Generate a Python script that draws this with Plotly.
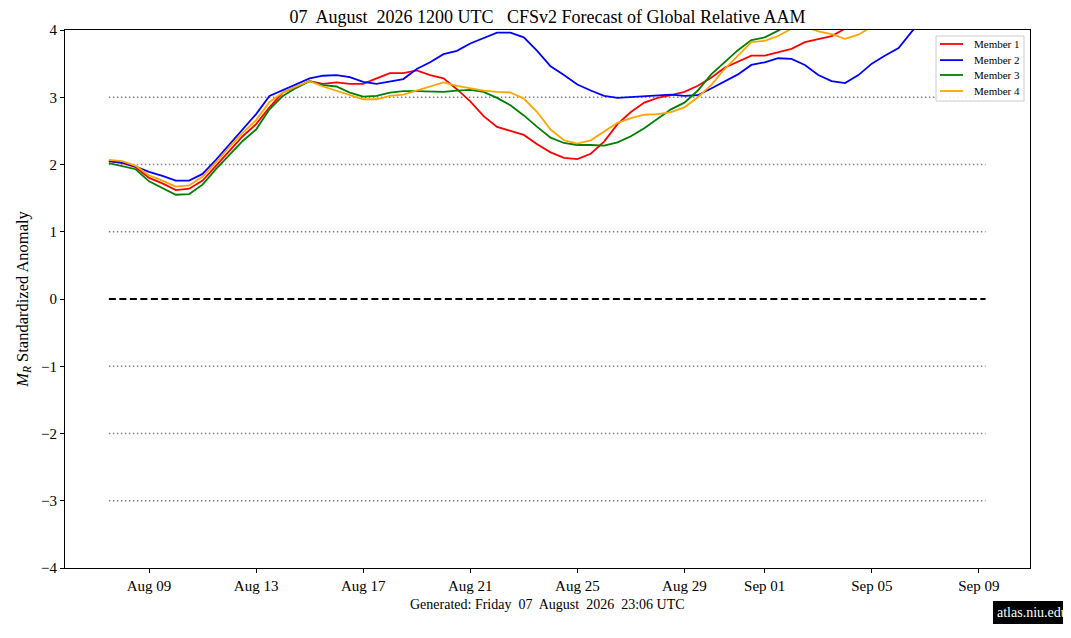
import pandas as pd
import plotly.graph_objects as go

# 12-hourly valid times of the forecast
times = pd.date_range("2026-08-07 12:00", periods=66, freq="12h")

member1 = [2.05, 2.02, 1.96, 1.80, 1.72, 1.62, 1.64, 1.76, 1.98, 2.20,
           2.42, 2.60, 2.85, 3.07, 3.16, 3.24, 3.20, 3.22, 3.20, 3.20,
           3.28, 3.36, 3.36, 3.40, 3.33, 3.28, 3.12, 2.94, 2.72, 2.56,
           2.50, 2.44, 2.30, 2.18, 2.10, 2.08, 2.16, 2.34, 2.60, 2.78,
           2.92, 2.99, 3.03, 3.08, 3.17, 3.29, 3.44, 3.53, 3.62, 3.62,
           3.67, 3.72, 3.82, 3.87, 3.91, 4.02, 4.15, 4.30, 4.45, 4.60,
           4.75, 4.90, 5.05, 5.20, 5.35, 5.50]
member2 = [2.05, 2.03, 1.97, 1.89, 1.83, 1.76, 1.76, 1.86, 2.07, 2.30,
           2.52, 2.75, 3.02, 3.11, 3.20, 3.28, 3.32, 3.33, 3.30, 3.23,
           3.20, 3.24, 3.27, 3.42, 3.52, 3.64, 3.69, 3.80, 3.88, 3.96,
           3.96, 3.89, 3.69, 3.46, 3.33, 3.19, 3.10, 3.02, 2.99, 3.00,
           3.01, 3.02, 3.04, 3.02, 3.03, 3.13, 3.23, 3.34, 3.48, 3.52,
           3.58, 3.57, 3.48, 3.33, 3.24, 3.21, 3.33, 3.50, 3.62, 3.73,
           3.98, 4.20, 4.40, 4.60, 4.80, 5.00]
member3 = [2.02, 1.98, 1.93, 1.75, 1.65, 1.55, 1.56, 1.70, 1.93, 2.14,
           2.35, 2.52, 2.82, 3.02, 3.14, 3.24, 3.18, 3.16, 3.07, 3.01,
           3.02, 3.07, 3.09, 3.09, 3.09, 3.08, 3.10, 3.11, 3.08, 2.99,
           2.88, 2.73, 2.56, 2.40, 2.32, 2.29, 2.29, 2.28, 2.33, 2.42,
           2.54, 2.68, 2.82, 2.92, 3.10, 3.34, 3.52, 3.70, 3.85, 3.89,
           3.99, 4.10, 4.25, 4.40, 4.55, 4.70, 4.85, 5.00, 5.15, 5.30,
           5.45, 5.60, 5.75, 5.90, 6.05, 6.20]
member4 = [2.07, 2.05, 1.98, 1.84, 1.76, 1.67, 1.69, 1.82, 2.03, 2.26,
           2.47, 2.66, 2.93, 3.07, 3.16, 3.24, 3.16, 3.10, 3.04, 2.97,
           2.97, 3.02, 3.04, 3.10, 3.16, 3.22, 3.17, 3.13, 3.10, 3.08,
           3.07, 2.98, 2.78, 2.52, 2.36, 2.31, 2.36, 2.49, 2.62, 2.69,
           2.74, 2.75, 2.78, 2.85, 3.00, 3.18, 3.42, 3.62, 3.82, 3.84,
           3.91, 4.02, 4.05, 3.98, 3.94, 3.87, 3.93, 4.05, 4.20, 4.35,
           4.50, 4.65, 4.80, 4.95, 5.10, 5.25]

member_names = ["Member 1", "Member 2", "Member 3", "Member 4"]
member_colors = ["red", "blue", "green", "orange"]

ref_levels = [-3, -2, -1, 1, 2, 3]
ref_span = ["2026-08-07 12:00", "2026-09-09 06:00"]

y_ticks = [-4, -3, -2, -1, 0, 1, 2, 3, 4]
y_ticktext = ["\u22124", "\u22123", "\u22122", "\u22121", "0", "1", "2", "3", "4"]
x_ticks = ["2026-08-09", "2026-08-13", "2026-08-17", "2026-08-21", "2026-08-25",
           "2026-08-29", "2026-09-01", "2026-09-05", "2026-09-09"]
x_ticktext = ["Aug 09", "Aug 13", "Aug 17", "Aug 21", "Aug 25",
              "Aug 29", "Sep 01", "Sep 05", "Sep 09"]

FONT = "Liberation Serif"

fig = go.Figure()

for lvl in ref_levels:
    fig.add_trace(go.Scatter(x=ref_span, y=[lvl, lvl], mode="lines",
                             line=dict(color="gray", width=1.5, dash="1.5px,2.5px"),
                             showlegend=False, hoverinfo="skip"))
fig.add_trace(go.Scatter(x=ref_span, y=[0, 0], mode="lines",
                         line=dict(color="black", width=2, dash="7px,3.5px"),
                         showlegend=False, hoverinfo="skip"))

for name, vals, col in zip(member_names, [member1, member2, member3, member4], member_colors):
    fig.add_trace(go.Scatter(x=times, y=vals, mode="lines", name=name,
                             line=dict(color=col, width=1.8), showlegend=False))

# page body has an 8px margin: the figure is shrunk and margins offset to match
fig.update_layout(
    width=1063, height=630,
    margin=dict(l=57, r=41, t=22, b=70),
    paper_bgcolor="white", plot_bgcolor="white",
    font=dict(family=FONT, color="black", size=14),
    title=dict(text="07  August  2026 1200 UTC   CFSv2 Forecast of Global Relative AAM",
               x=0.5, xref="paper", xanchor="center", y=0.986, yanchor="middle",
               font=dict(size=18, family=FONT)),
    showlegend=False,
)

fig.update_xaxes(range=["2026-08-05 20:40", "2026-09-10 21:50"],
                 tickvals=x_ticks, ticktext=x_ticktext,
                 ticks="outside", ticklen=4, tickwidth=1, tickcolor="black",
                 showline=True, linecolor="black", linewidth=1.2, mirror=True,
                 showgrid=False, zeroline=False, tickfont=dict(size=15))
fig.update_yaxes(range=[-4, 4], tickvals=y_ticks, ticktext=y_ticktext,
                 ticks="outside", ticklen=4, tickwidth=1, tickcolor="black",
                 showline=True, linecolor="black", linewidth=1.2, mirror=True,
                 showgrid=False, zeroline=False, tickfont=dict(size=15),
                 title=dict(text="<i>M<sub>R</sub></i> Standardized Anomaly",
                            font=dict(size=16.5), standoff=8))

# legend box (upper right, inside the axes)
fig.add_shape(type="rect", xref="paper", yref="paper",
              x0=0.9026, x1=0.9938, y0=0.868, y1=0.9888,
              line=dict(color="#cccccc", width=1), fillcolor="rgba(255,255,255,0.85)",
              layer="above")
legend_rows = [0.974, 0.944, 0.9164, 0.8866]
for name, col, yrow in zip(member_names, member_colors, legend_rows):
    fig.add_shape(type="line", xref="paper", yref="paper",
                  x0=0.9067, x1=0.9306, y0=yrow, y1=yrow,
                  line=dict(color=col, width=1.8), layer="above")
    fig.add_annotation(text=name, xref="paper", yref="paper",
                       x=0.9399, y=yrow, xanchor="left", yanchor="middle",
                       showarrow=False, font=dict(size=11, family=FONT))

fig.add_annotation(text="Generated: Friday  07  August  2026  23:06 UTC",
                   xref="paper", yref="paper", x=0.5, y=-0.067,
                   xanchor="center", yanchor="middle", showarrow=False,
                   font=dict(size=14, family=FONT))
fig.add_annotation(text="atlas.niu.edu",
                   xref="paper", yref="paper", x=0.9617, y=-0.0836,
                   xanchor="left", yanchor="middle", showarrow=False,
                   bgcolor="black", bordercolor="black", borderpad=3,
                   font=dict(size=14, family=FONT, color="white"))

fig.write_html("out.html")
